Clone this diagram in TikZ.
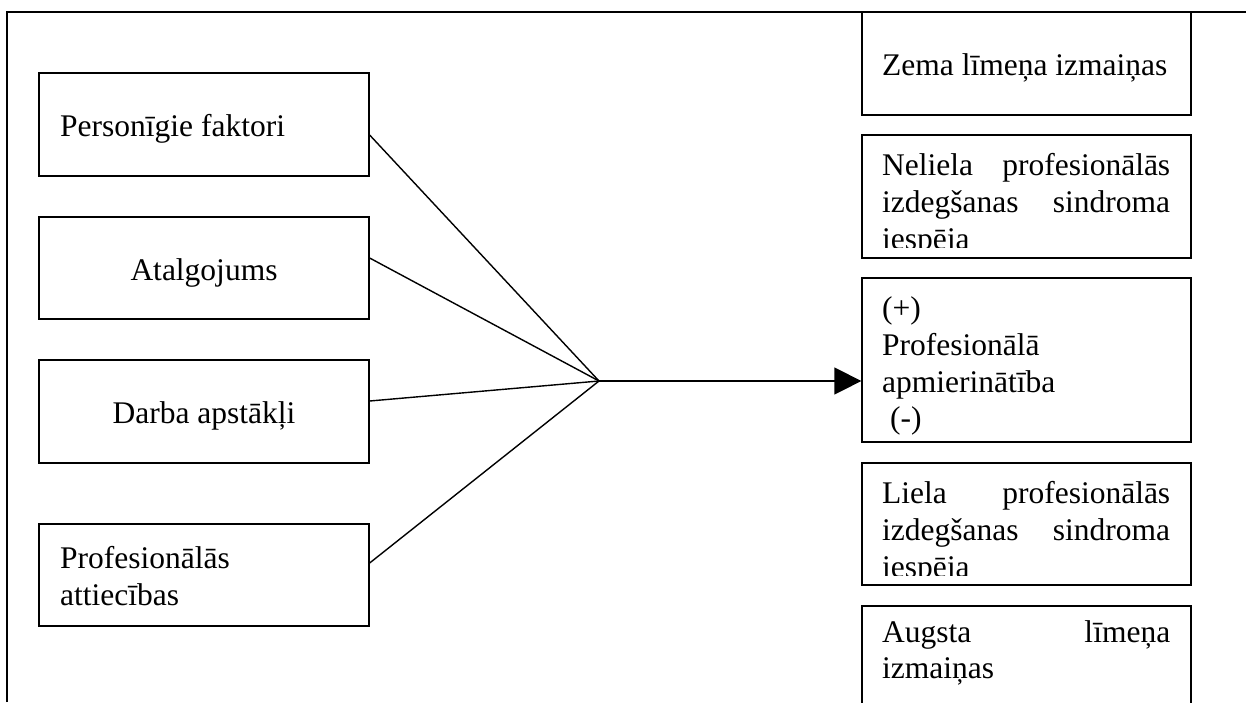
\documentclass[tikz,border=0pt]{standalone}
\usepackage{fontspec}
\setmainfont{Liberation Serif}
\usetikzlibrary{arrows.meta}
\begin{document}
\begin{tikzpicture}[x=1pt,y=-1pt,
  every node/.style={font=\fontsize{31.5}{36.5}\selectfont},
  box/.style={draw, line width=1.3pt, inner sep=0pt, minimum width=330pt},
  txt/.style={anchor=base west, inner sep=0pt},
  ctxt/.style={anchor=base, inner sep=0pt},
  link/.style={line width=1.4pt},
  frame/.style={line width=1.5pt}]
\clip (0,0) rectangle (1246,702);
\fill[white] (0,0) rectangle (1246,702);
% outer frame
\coordinate (fbl) at (7,702);
\coordinate (ftl) at (7,12);
\coordinate (ftr) at (1246,12);
\draw[frame] (fbl) -- (ftl) -- (ftr);
% left boxes
\node[box, minimum height=103pt] (b1) at (204,124.5) {};
\node[box, minimum height=102pt] (b2) at (204,268) {};
\node[box, minimum height=103pt] (b3) at (204,411.5) {};
\node[box, minimum height=102pt] (b4) at (204,575) {};
\node[txt] (t1) at (60,136) {Personīgie faktori};
\node[ctxt] (t2) at (204,280) {Atalgojums};
\node[ctxt] (t3) at (204,423) {Darba apstākļi};
\node[txt] (t4a) at (60,568) {Profesionālās};
\node[txt] (t4b) at (60,605) {attiecības};
% right boxes
\node[box, minimum width=329pt, minimum height=103pt] (r1) at (1026.5,63.5) {};
\node[box, minimum width=329pt, minimum height=123pt] (r2) at (1026.5,196.5) {};
\node[box, minimum width=329pt, minimum height=164pt] (r3) at (1026.5,360) {};
\node[box, minimum width=329pt, minimum height=122pt] (r4) at (1026.5,524) {};
\node[box, minimum width=329pt, minimum height=124pt] (r5) at (1026.5,668) {};
\node[txt] (rt1) at (882,75) {Zema līmeņa izmaiņas};
\begin{scope}
\clip (862,135) rectangle (1191,247);
\node[txt] (rt2a) at (882,175) {\hbox to 288pt{Neliela\hfill profesionālās}};
\node[txt] (rt2b) at (882,212) {\hbox to 288pt{izdegšanas\hfill sindroma}};
\node[txt] (rt2c) at (882,249) {iespēja};
\end{scope}
\node[txt] (rt3a) at (882,318) {(+)};
\node[txt] (rt3b) at (882,355) {Profesionālā};
\node[txt] (rt3c) at (882,392) {apmierinātība};
\node[txt] (rt3d) at (890,428) {(-)};
\begin{scope}
\clip (862,463) rectangle (1191,575);
\node[txt] (rt4a) at (882,503) {\hbox to 288pt{Liela\hfill profesionālās}};
\node[txt] (rt4b) at (882,540) {\hbox to 288pt{izdegšanas\hfill sindroma}};
\node[txt] (rt4c) at (882,577) {iespēja};
\end{scope}
\node[txt] (rt5a) at (882,642) {\hbox to 288pt{Augsta\hfill līmeņa}};
\node[txt] (rt5b) at (882,678) {izmaiņas};
% connectors
\coordinate (hub) at (599,381);
\draw[link] ([yshift=-10.5pt]b1.east) -- (hub);
\draw[link] ([yshift=10pt]b2.east) -- (hub);
\draw[link] ([yshift=10.5pt]b3.east) -- (hub);
\draw[link] ([yshift=12pt]b4.east) -- (hub);
\draw[link, -{Triangle[length=27pt,width=27pt]}] (hub) -- (hub -| r3.west);
\end{tikzpicture}
\end{document}
